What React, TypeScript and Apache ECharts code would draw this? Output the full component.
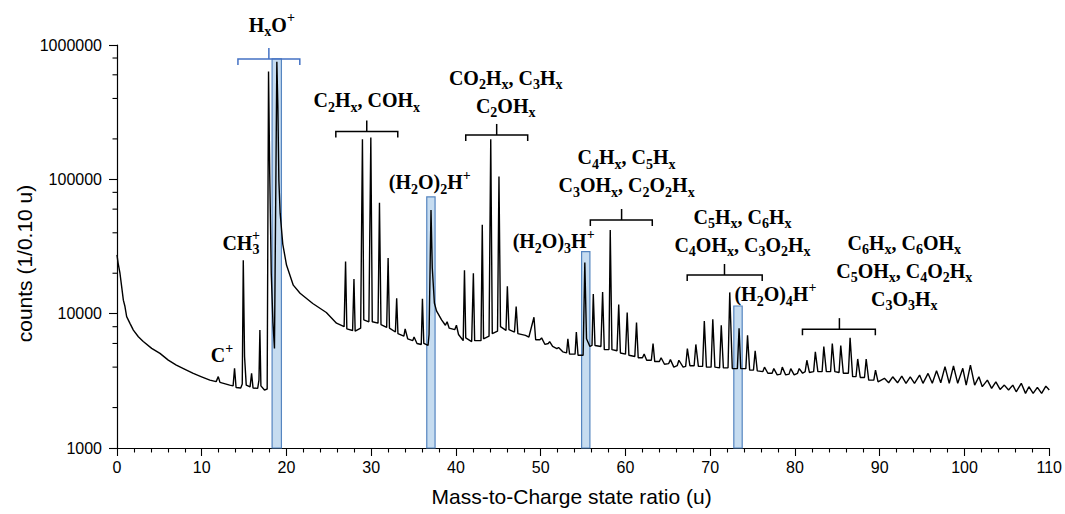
import React, { useEffect, useRef } from 'react';
import * as echarts from 'echarts';

// Mass spectrum trace: [mass-to-charge (u), counts]
const spectrum: [number, number][] = [
  [0, 27400], [0.12, 24000], [0.35, 20000], [0.55, 15900], [0.75, 12600], [0.94, 11300],
  [1.14, 9500], [1.53, 8470], [1.93, 7550], [2.52, 6730], [3.1, 6200], [4.09, 5520],
  [5.07, 5060], [6.05, 4510], [7.0, 4140], [8.02, 3850], [9.0, 3590], [9.98, 3390],
  [10.96, 3200], [11.7, 3120], [11.95, 3400], [12.15, 3080], [13.3, 2940], [13.7, 2900],
  [13.87, 3920], [14.05, 2820], [14.6, 2800], [14.78, 3000], [14.9, 25000], [15.05, 4800],
  [15.25, 2940], [15.7, 2850], [15.88, 3590], [16.05, 2800], [16.6, 2780], [16.75, 3200],
  [16.86, 7550], [16.98, 2900], [17.4, 2700], [17.72, 2750], [17.88, 635000], [18.02, 111000],
  [18.2, 20000], [18.4, 8600], [18.58, 5500], [18.72, 62000], [18.86, 750000], [18.98, 348000],
  [19.1, 98000], [19.25, 56000], [19.56, 33000], [20.0, 23000], [20.8, 16300], [21.6, 14200],
  [23.1, 11900], [24.7, 10200], [25.9, 8500], [26.8, 8000], [26.97, 24400], [27.12, 7700],
  [27.8, 7500], [27.96, 18100], [28.1, 7400], [28.75, 7800], [28.96, 199000], [29.12, 9000],
  [29.72, 8700], [29.95, 205000], [30.12, 8700], [30.8, 8500], [30.97, 67000], [31.15, 8300],
  [31.82, 7900], [31.99, 26000], [32.15, 7800], [32.85, 7300], [33.0, 13000], [33.15, 7100],
  [33.85, 6800], [34.0, 7700], [34.3, 6500], [34.9, 6300], [35.05, 6700], [35.4, 6000],
  [35.9, 5900], [36.04, 12900], [36.2, 6000], [36.7, 5800], [36.82, 7000], [37.05, 59000],
  [37.2, 22000], [37.45, 12000], [37.7, 10500], [38.3, 9000], [38.75, 8200], [38.95, 8700],
  [39.2, 7800], [39.85, 7600], [40.05, 8200], [40.3, 7000], [40.85, 6300], [41.0, 21000],
  [41.15, 6600], [41.85, 6200], [42.05, 20000], [42.2, 6300], [42.95, 6300], [43.1, 46000],
  [43.25, 6500], [43.9, 6800], [44.1, 199000], [44.28, 7100], [44.9, 7400], [45.07, 105000],
  [45.25, 8000], [45.9, 7500], [46.06, 16000], [46.25, 7600], [46.9, 7300], [47.1, 11300],
  [47.3, 7100], [48.2, 6900], [48.6, 6700], [49.2, 9400], [49.4, 6400], [49.9, 6400],
  [50.1, 6600], [50.5, 5900], [50.9, 6000], [51.05, 6200], [51.4, 5700], [51.9, 5500],
  [52.1, 5600], [52.6, 5200], [53.05, 5100], [53.2, 6500], [53.4, 5000], [54.05, 5000],
  [54.2, 7300], [54.4, 4900], [55.0, 4900], [55.2, 24000], [55.4, 6500], [55.8, 5700],
  [56.05, 5800], [56.2, 14000], [56.4, 5800], [57.1, 5700], [57.3, 14500], [57.5, 5400],
  [58.05, 5400], [58.2, 42000], [58.4, 5400], [59.0, 5300], [59.2, 11700], [59.4, 5100],
  [60.0, 5000], [60.2, 10200], [60.4, 4900], [61.1, 4800], [61.3, 8600], [61.5, 4700],
  [62.0, 4700], [62.2, 5000], [62.5, 4500], [63.05, 4500], [63.25, 6000], [63.45, 4400],
  [64.0, 4400], [64.2, 4700], [64.6, 4200], [65.1, 4250], [65.3, 4550], [65.7, 4000],
  [66.1, 4100], [66.3, 4500], [66.8, 4000], [67.1, 4050], [67.3, 5500], [67.6, 4100],
  [68.1, 4100], [68.3, 5900], [68.6, 4050], [69.1, 4050], [69.3, 8800], [69.55, 4000],
  [70.1, 4000], [70.3, 9100], [70.55, 4000], [71.1, 3950], [71.3, 8200], [71.55, 3950],
  [72.1, 3950], [72.3, 14400], [72.6, 3900], [73.2, 3900], [73.4, 7800], [73.6, 3900],
  [74.2, 3900], [74.4, 6900], [74.65, 3800], [75.1, 3800], [75.3, 5300], [75.55, 3750],
  [76.2, 3700], [76.4, 4000], [76.8, 3600], [77.3, 3600], [77.5, 3900], [77.9, 3500],
  [78.3, 3550], [78.5, 4000], [78.9, 3500], [79.3, 3550], [79.5, 3900], [79.9, 3500],
  [80.3, 3600], [80.5, 3900], [80.9, 3600], [81.2, 3700], [81.4, 4500], [81.7, 3650],
  [82.2, 3700], [82.4, 5200], [82.7, 3700], [83.2, 3700], [83.4, 5700], [83.7, 3700],
  [84.2, 3700], [84.4, 6000], [84.7, 3700], [85.2, 3650], [85.4, 5800], [85.7, 3600],
  [86.3, 3600], [86.5, 6600], [86.8, 3400], [87.2, 3400], [87.4, 4600], [87.7, 3350],
  [88.2, 3350], [88.4, 4600], [88.7, 3200], [89.3, 3200], [89.5, 3800], [89.8, 3110],
  [90.55, 3300], [91.05, 3060], [91.53, 3390], [92.1, 3060], [92.6, 3430], [93.1, 3030],
  [93.6, 3390], [94.1, 3030], [94.7, 3490], [95.1, 3030], [95.7, 3590], [96.2, 3030],
  [96.7, 3760], [97.2, 3060], [97.7, 4030], [98.2, 3030], [98.7, 4080], [99.2, 3030],
  [99.8, 3920], [100.2, 2940], [100.7, 4140], [101.2, 2940], [101.7, 3390], [102.1, 2860],
  [102.7, 3200], [103.2, 2780], [103.7, 3110], [104.2, 2730], [104.7, 2940], [105.2, 2700],
  [105.7, 2940], [106.1, 2620], [106.7, 3030], [107.2, 2550], [107.6, 2860], [108.1, 2550],
  [108.6, 2830], [109.1, 2550], [109.6, 2890], [110, 2700],
];

// Highlighted water-cluster windows: [from u, to u, top counts]
const waterBoxes: [number, number, number][] = [
  [18.3, 19.4, 790000],
  [36.55, 37.53, 74000],
  [54.82, 55.8, 29000],
  [72.78, 73.77, 11400],
];

// Log-axis minor tick values
const yMinorTicks: number[] = [
  2000, 4000, 6000, 8000, 20000, 40000, 60000, 80000, 200000, 400000, 600000, 800000,
];

const xAxisTitle = 'Mass-to-Charge state ratio (u)';
const yAxisTitle = 'counts (1/0.10 u)';

// Brackets grouping peaks: [from u, to u, centre u, counts level, blue?]
const brackets: [number, number, number, number, boolean][] = [
  [14.27, 21.57, 17.92, 787000, true],
  [25.82, 33.13, 29.47, 227000, false],
  [41.15, 48.46, 44.8, 214000, false],
  [55.85, 63.16, 59.54, 49800, false],
  [67.28, 76.13, 71.68, 19400, false],
  [80.88, 89.48, 85.24, 7670, false],
];

// Annotation texts (rich text markup) anchored at [u, counts]
const annotations: { x: number; y: number; text: string; blue?: boolean }[] = [
  { x: 18.27, y: 1410000, text: '{b|H}{s|x}{b|O}{p|+}', blue: true },
  { x: 12.38, y: 4920, text: '{b|C}{p|+}' },
  { x: 29.47, y: 389000, text: '{b|C}{s|2}{b|H}{s|x}{b|, COH}{s|x}' },
  { x: 45.86, y: 447000, text: '{b|CO}{s|2}{b|H}{s|x}{b|, C}{s|3}{b|H}{s|x}\n{b|C}{s|2}{b|OH}{s|x}' },
  { x: 36.9, y: 95500, text: '{b|(H}{s|2}{b|O)}{s|2}{b|H}{p|+}', blue: true },
  { x: 60.13, y: 115000, text: '{b|C}{s|4}{b|H}{s|x}{b|, C}{s|5}{b|H}{s|x}\n{b|C}{s|3}{b|OH}{s|x}{b|, C}{s|2}{b|O}{s|2}{b|H}{s|x}' },
  { x: 51.52, y: 34700, text: '{b|(H}{s|2}{b|O)}{s|3}{b|H}{p|+}', blue: true },
  { x: 73.8, y: 41600, text: '{b|C}{s|5}{b|H}{s|x}{b|, C}{s|6}{b|H}{s|x}\n{b|C}{s|4}{b|OH}{s|x}{b|, C}{s|3}{b|O}{s|2}{b|H}{s|x}' },
  { x: 77.69, y: 14000, text: '{b|(H}{s|2}{b|O)}{s|4}{b|H}{p|+}', blue: true },
  { x: 92.9, y: 20800, text: '{b|C}{s|6}{b|H}{s|x}{b|, C}{s|6}{b|OH}{s|x}\n{b|C}{s|5}{b|OH}{s|x}{b|, C}{s|4}{b|O}{s|2}{b|H}{s|x}\n{b|C}{s|3}{b|O}{s|3}{b|H}{s|x}' },
];
const methylLabel = { x: 14.62, y: 33600 };

const SANS = 'Liberation Sans, Arial, sans-serif';
const SERIF = 'Liberation Serif, DejaVu Serif, serif';
const BLUE = '#4472C4';

function richStyles(color: string) {
  const base = { fontFamily: SERIF, fontWeight: 'bold', color };
  return {
    b: { ...base, fontSize: 20, lineHeight: 28 },
    s: { ...base, fontSize: 14, lineHeight: 19, verticalAlign: 'bottom' },
    p: { ...base, fontSize: 14, lineHeight: 17, verticalAlign: 'top' },
  };
}

export default function App() {
  const ref = useRef<HTMLDivElement>(null);
  useEffect(() => {
    document.body.style.margin = '0';
    const chart = echarts.init(ref.current!, undefined, { renderer: 'svg' });
    chart.setOption({
      animation: false,
      backgroundColor: '#ffffff',
      grid: { left: 117, right: 15, top: 45, bottom: 66 },
      xAxis: {
        type: 'value',
        min: 0,
        max: 110,
        interval: 10,
        name: xAxisTitle,
        nameLocation: 'middle',
        nameGap: 38,
        nameTextStyle: { fontSize: 21, fontFamily: SANS, color: '#000', padding: [0, 23, 0, 0] },
        axisLine: { show: true, onZero: false, lineStyle: { color: '#000', width: 1.2 } },
        axisTick: { show: true, length: 8, lineStyle: { color: '#000', width: 1.1 } },
        minorTick: { show: true, splitNumber: 5, length: 4.5, lineStyle: { color: '#000', width: 1.1 } },
        axisLabel: { color: '#000', fontSize: 16, fontFamily: SANS, margin: 11 },
        splitLine: { show: false },
      },
      yAxis: {
        type: 'log',
        logBase: 10,
        min: 1000,
        max: 1000000,
        axisLine: { show: true, onZero: false, lineStyle: { color: '#000', width: 1.2 } },
        axisTick: { show: true, length: 8, lineStyle: { color: '#000', width: 1.1 } },
        axisLabel: {
          color: '#000', fontSize: 16, fontFamily: SANS, margin: 15,
          formatter: (v: number) => String(Math.round(v)),
        },
        splitLine: { show: false },
      },
      series: [
        {
          type: 'line',
          data: spectrum,
          showSymbol: false,
          symbol: 'none',
          lineStyle: { color: '#000', width: 1.4 },
          z: 2,
        },
        {
          type: 'line',
          data: [],
          z: 3,
          markArea: {
            silent: true,
            itemStyle: { color: 'rgba(176,206,234,0.72)', borderColor: '#5585C0', borderWidth: 1.2 },
            data: waterBoxes.map(([a, b, top]) => [
              { xAxis: a, yAxis: 1000 },
              { xAxis: b, yAxis: top },
            ]),
          },
        },
      ],
    });

    const px = (x: number, y: number) =>
      chart.convertToPixel({ gridIndex: 0 }, [x, y]) as number[];

    const elements: any[] = [];
    const [axisX, axisBottom] = px(0, 1000);
    const [, axisTop] = px(0, 1000000);

    // y-axis title (rotated), slightly below the axis middle as in the figure
    elements.push({
      type: 'text',
      x: axisX - 93,
      y: (axisTop + axisBottom) / 2 + 17,
      rotation: Math.PI / 2,
      silent: true,
      style: {
        text: yAxisTitle, fill: '#000', font: '21px ' + SANS,
        align: 'center', verticalAlign: 'middle', textAlign: 'center', textVerticalAlign: 'middle',
      },
    });

    yMinorTicks.forEach((v) => {
      const [, yy] = px(0, v);
      elements.push({
        type: 'line',
        shape: { x1: axisX - 4.5, y1: yy, x2: axisX, y2: yy },
        style: { stroke: '#000', lineWidth: 1.1 },
        silent: true,
      });
    });

    brackets.forEach(([a, b, c, lvl, blue]) => {
      const col = blue ? BLUE : '#000';
      const [xa, yl] = px(a, lvl);
      const [xb] = px(b, lvl);
      const [xc] = px(c, lvl);
      elements.push({
        type: 'polyline',
        shape: { points: [[xa, yl + 6], [xa, yl], [xb, yl], [xb, yl + 6]] },
        style: { stroke: col, lineWidth: 1.5, fill: null },
        silent: true,
        z: 10,
      });
      elements.push({
        type: 'line',
        shape: { x1: xc, y1: yl, x2: xc, y2: yl - 11 },
        style: { stroke: col, lineWidth: 1.5 },
        silent: true,
        z: 10,
      });
    });

    annotations.forEach((a) => {
      const [xx, yy] = px(a.x, a.y);
      elements.push({
        type: 'text',
        x: xx,
        y: yy,
        z: 11,
        silent: true,
        style: {
          text: a.text,
          rich: richStyles(a.blue ? BLUE : '#000'),
          align: 'center',
          verticalAlign: 'middle',
          textAlign: 'center',
          textVerticalAlign: 'middle',
        },
      });
    });

    // CH3+ with stacked sub/superscript
    const [mx, my] = px(methylLabel.x, methylLabel.y);
    elements.push({
      type: 'text', x: mx, y: my, z: 11, silent: true,
      style: {
        text: '{b|CH}{s|3}', rich: richStyles('#000'),
        align: 'center', verticalAlign: 'middle', textAlign: 'center', textVerticalAlign: 'middle',
      },
    });
    elements.push({
      type: 'text', x: mx + 15, y: my - 7, z: 11, silent: true,
      style: {
        text: '+', fill: '#000', font: 'bold 14px ' + SERIF,
        align: 'center', verticalAlign: 'middle', textAlign: 'center', textVerticalAlign: 'middle',
      },
    });

    chart.setOption({ graphic: { elements } });
    return () => chart.dispose();
  }, []);
  return <div ref={ref} style={{ width: 1065, height: 514 }} />;
}
